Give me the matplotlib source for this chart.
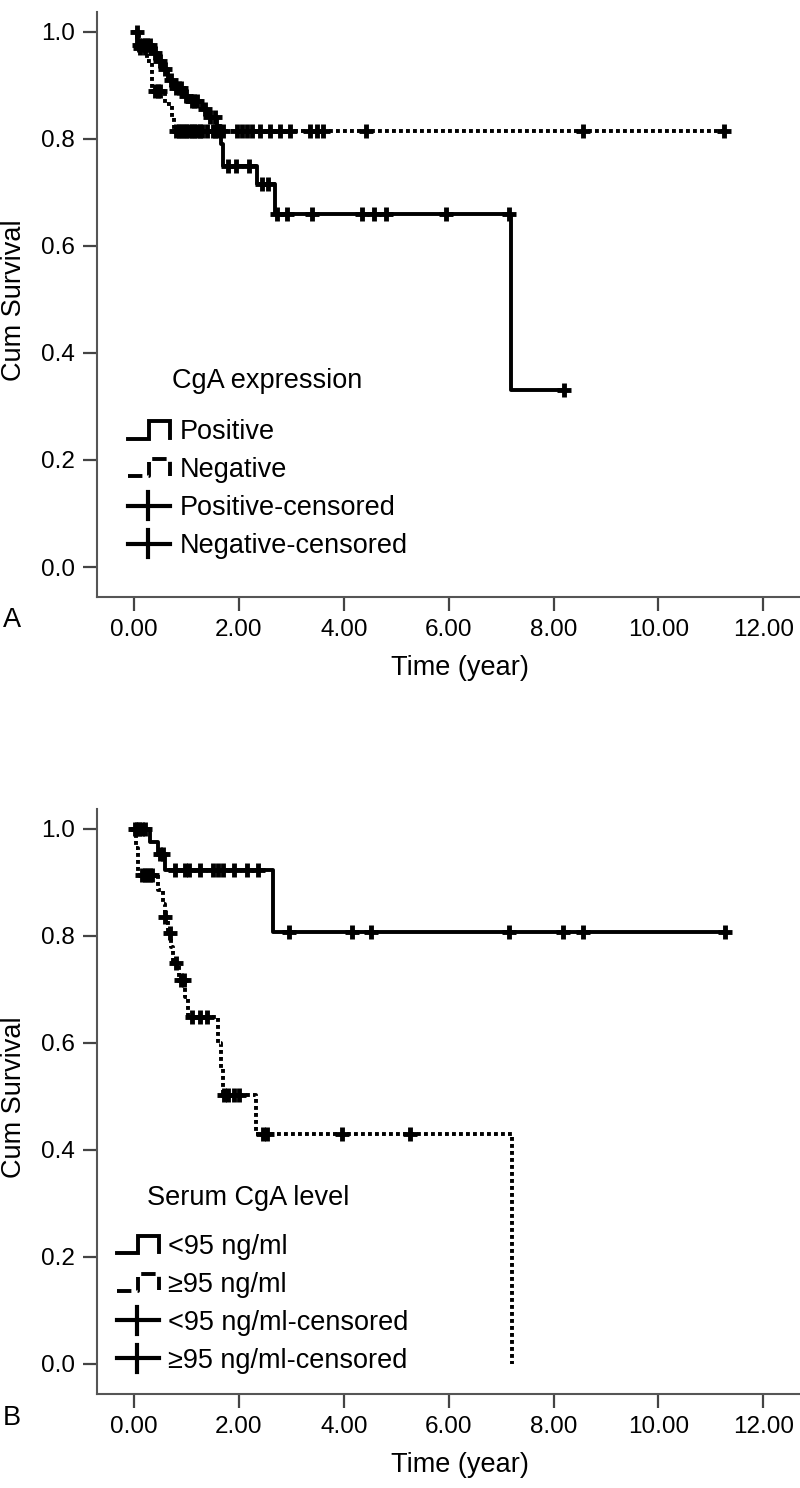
import numpy as np
import matplotlib.pyplot as plt
from matplotlib.lines import Line2D
from matplotlib.legend_handler import HandlerBase

plt.rcParams['font.family'] = ['Liberation Sans', 'DejaVu Sans']

# ---- panel A: CgA expression (tissue) ----
pos_t = [0.0, 0.05, 0.35, 0.45, 0.55, 0.65, 0.75, 0.95, 1.05, 1.3, 1.4, 1.58, 1.65, 1.7, 2.35, 2.68, 7.18]
pos_s = [1.0, 0.975, 0.96, 0.945, 0.93, 0.91, 0.895, 0.88, 0.87, 0.855, 0.84, 0.825, 0.79, 0.75, 0.715, 0.66, 0.33]
pos_end = 8.2
pos_cens = [0.1, 0.15, 0.2, 0.25, 0.3, 0.4, 0.5, 0.6, 0.7, 0.8, 0.85, 0.9, 1.0, 1.1, 1.15, 1.2,
            1.35, 1.45, 1.55, 1.8, 1.95, 2.2, 2.45, 2.55, 2.73, 2.92, 3.4, 4.35, 4.58, 4.81, 5.95, 7.15, 8.2]

neg_t = [0.0, 0.1, 0.25, 0.35, 0.6, 0.72, 0.76]
neg_s = [1.0, 0.97, 0.945, 0.89, 0.865, 0.84, 0.815]
neg_end = 11.25
neg_cens = [0.05, 0.12, 0.2, 0.4, 0.45, 0.5, 0.8, 0.85, 0.9, 0.95, 1.0, 1.05, 1.1, 1.15, 1.2, 1.25,
            1.3, 1.4, 1.5, 1.55, 1.6, 1.7, 1.97, 2.05, 2.15, 2.25, 2.4, 2.6, 2.78, 2.98, 3.36, 3.49,
            3.6, 4.43, 8.57, 11.25]

# ---- panel B: serum CgA level ----
lo_t = [0.0, 0.3, 0.45, 0.6, 2.65]
lo_s = [1.0, 0.976, 0.953, 0.923, 0.807]
lo_end = 11.28
lo_cens = [0.05, 0.1, 0.15, 0.2, 0.5, 0.55, 0.78, 0.98, 1.05, 1.25, 1.5, 1.6, 1.7, 1.9, 2.16, 2.37,
           2.96, 4.16, 4.52, 7.16, 8.19, 8.57, 11.28]

hi_t = [0.0, 0.03, 0.07, 0.45, 0.55, 0.6, 0.65, 0.7, 0.75, 0.85, 0.97, 1.03, 1.6, 1.66, 1.7, 2.33, 7.21]
hi_s = [1.0, 0.965, 0.914, 0.886, 0.86, 0.836, 0.806, 0.78, 0.75, 0.718, 0.686, 0.649, 0.60, 0.553, 0.503, 0.43, 0.0]
hi_end = 7.21
hi_cens = [0.02, 0.15, 0.2, 0.25, 0.3, 0.35, 0.6, 0.68, 0.8, 0.9, 0.95, 1.1, 1.25, 1.4, 1.72, 1.8,
           1.9, 2.0, 2.46, 2.54, 3.97, 5.27]

xticks = [0, 2, 4, 6, 8, 10, 12]
yticks = [0.0, 0.2, 0.4, 0.6, 0.8, 1.0]

LW = 2.8
DOT = (0, (1.0, 0.8))
LEG_DOT = (0, (0.8, 0.7))


class StepHandler(HandlerBase):
    def create_artists(self, legend, orig, xdescent, ydescent, width, height, fontsize, trans):
        xs = -xdescent + width * np.array([0, 0.5, 0.5, 1, 1])
        ys = -ydescent + height * np.array([0.05, 0.05, 0.95, 0.95, 0.1])
        ln = Line2D(xs, ys, color='black', lw=LW, ls=orig.get_linestyle(),
                    solid_joinstyle='miter', dash_capstyle='butt')
        ln.set_transform(trans)
        return [ln]


class CensorHandler(HandlerBase):
    def create_artists(self, legend, orig, xdescent, ydescent, width, height, fontsize, trans):
        x0, y0 = -xdescent, -ydescent
        h = Line2D([x0, x0 + width], [y0 + height / 2] * 2, color='black', lw=3)
        v = Line2D([x0 + width * 0.48] * 2, [y0 - 0.22 * height, y0 + 1.22 * height], color='black', lw=3)
        h.set_transform(trans)
        v.set_transform(trans)
        return [h, v]


def km(ax, t, s, t_end, cens, ls):
    tt = list(t) + [t_end]
    ss = list(s) + [s[-1]]
    ax.step(tt, ss, where='post', color='black', lw=LW, ls=ls, dash_capstyle='butt')
    idx = np.searchsorted(t, cens, side='right') - 1
    ax.plot(cens, np.asarray(s)[idx], ls='none', marker='+', ms=10, mew=3.5, color='black')


def panel(ax, curves, labels, title, title_xy, leg_xy, letter, letter_y):
    for t, s, e, c, ls in curves:
        km(ax, t, s, e, c, ls)
    ax.set_xlim(-0.706, 12.72)
    ax.set_ylim(-0.056, 1.037)
    ax.set_xticks(xticks)
    ax.set_xticklabels([f"{v:.2f}" for v in xticks])
    ax.set_yticks(yticks)
    ax.set_yticklabels([f"{v:.1f}" for v in yticks])
    for sp in ['top', 'right']:
        ax.spines[sp].set_visible(False)
    for sp in ['left', 'bottom']:
        ax.spines[sp].set_color('#555555')
        ax.spines[sp].set_linewidth(1.5)
    ax.tick_params(axis='both', labelsize=17.5, length=10, width=1.6, color='#444444')
    ax.tick_params(axis='x', pad=6)
    ax.tick_params(axis='y', pad=6)
    ax.set_xlabel('Time (year)', fontsize=19.5)
    ax.xaxis.set_label_coords(0.515, -0.10)
    ax.set_ylabel('Cum Survival', fontsize=19.5)
    ax.yaxis.set_label_coords(-0.10, 0.508)

    handles = [Line2D([], [], ls='-'), Line2D([], [], ls=LEG_DOT),
               Line2D([], [], ls='-', marker='+'), Line2D([], [], ls='-', marker='+')]
    hmap = {handles[0]: StepHandler(), handles[1]: StepHandler(),
            handles[2]: CensorHandler(), handles[3]: CensorHandler()}
    ax.legend(handles, labels, handler_map=hmap, loc='center left', bbox_to_anchor=leg_xy,
              frameon=False, fontsize=19.5, handlelength=1.55, handleheight=0.7,
              handletextpad=0.35, labelspacing=0.44, borderpad=0, borderaxespad=0)
    ax.text(title_xy[0], title_xy[1], title, transform=ax.transAxes, fontsize=19.5,
            ha='left', va='center')
    fig.text(12 / 800, letter_y, letter, fontsize=19.5, ha='center', va='center')


fig = plt.figure(figsize=(8, 14.88), dpi=100)
axA = fig.add_axes([97 / 800, 0.5988, 0.88, 0.3931])
axB = fig.add_axes([97 / 800, 0.0632, 0.88, 0.3931])

panel(axA,
      [(pos_t, pos_s, pos_end, pos_cens, '-'), (neg_t, neg_s, neg_end, neg_cens, DOT)],
      ['Positive', 'Negative', 'Positive-censored', 'Negative-censored'],
      'CgA expression', (0.107, 0.369), (0.044, 0.184), 'A', 1 - 620 / 1488)
panel(axB,
      [(lo_t, lo_s, lo_end, lo_cens, '-'), (hi_t, hi_s, hi_end, hi_cens, DOT)],
      ['<95 ng/ml', '\u226595 ng/ml', '<95 ng/ml-censored', '\u226595 ng/ml-censored'],
      'Serum CgA level', (0.071, 0.335), (0.028, 0.154), 'B', 1 - 1418 / 1488)

fig.savefig('out.png', dpi=100)
